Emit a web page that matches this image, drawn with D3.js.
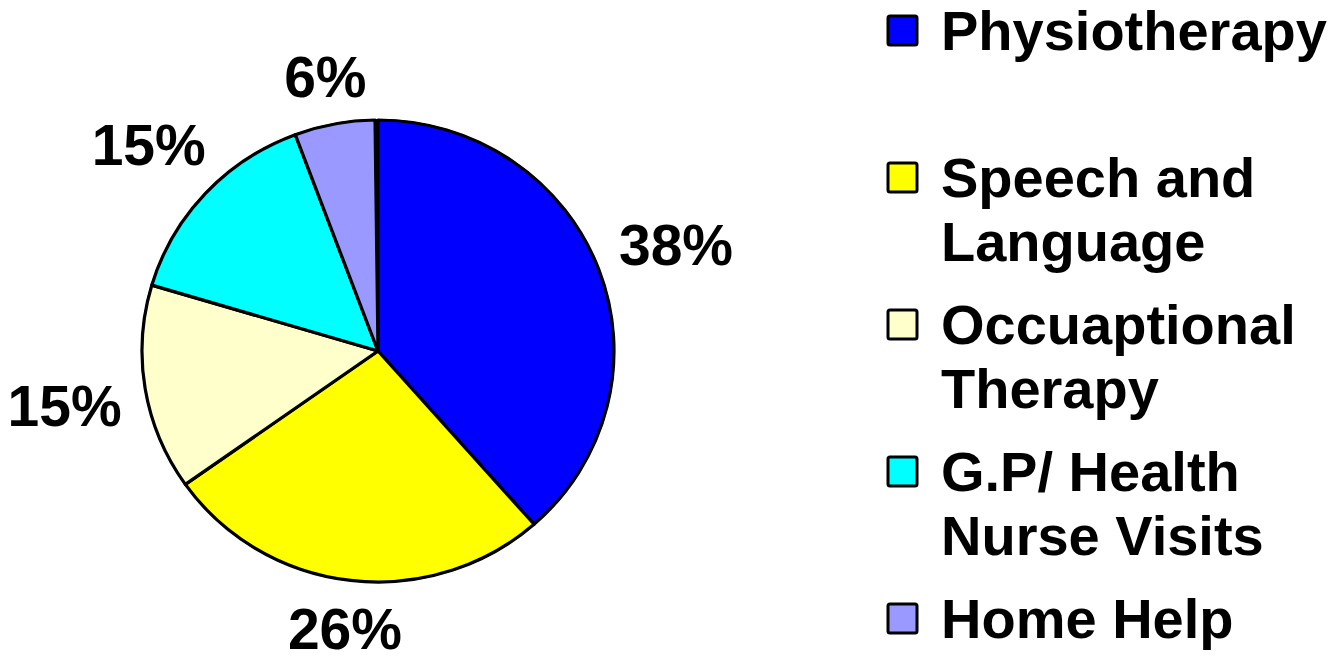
<!DOCTYPE html>
<html>
<head>
<meta charset="utf-8">
<script src="https://cdn.jsdelivr.net/npm/d3@7/dist/d3.min.js"></script>
<style>
  html, body { margin: 0; padding: 0; background: #fff; }
  svg { display: block; }
  text { font-family: "Liberation Sans", Arial, sans-serif; font-weight: bold; fill: #000; }
</style>
</head>
<body>
<svg id="chart" width="1333" height="661"></svg>
<script>
// ---- data ----
const categories = ["Physiotherapy", "Speech and Language", "Occuaptional Therapy", "G.P/ Health Nurse Visits", "Home Help"];
const legendLines = [["Physiotherapy"], ["Speech and", "Language"], ["Occuaptional", "Therapy"], ["G.P/ Health", "Nurse Visits"], ["Home Help"]];
const values = [38.5, 26.7, 14.4, 14.7, 5.5];
const valueLabels = ["38%", "26%", "15%", "15%", "6%"];
const colors = ["#0000FF", "#FFFF00", "#FFFFCC", "#00FFFF", "#9999FF"];

// ---- layout ----
const svg = d3.select("#chart");
const cx = 378, cy = 351, rx = 236, ry = 231;
const yScale = ry / rx;

const total = d3.sum(values);
const pie = d3.pie().sort(null).value(d => d)
  .startAngle(0).endAngle(2 * Math.PI * Math.min(total, 100) / 100);
const arcs = pie(values);
const arc = d3.arc().innerRadius(0).outerRadius(rx);

const g = svg.append("g").attr("transform", `translate(${cx},${cy}) scale(1,${yScale})`);
g.append("circle").attr("r", rx + 1).attr("fill", "#000");
g.selectAll("path.slice").data(arcs).join("path")
  .attr("class", "slice")
  .attr("d", arc)
  .attr("fill", (d, i) => colors[i])
  .attr("stroke", "#000")
  .attr("stroke-width", 3.2)
  .attr("stroke-linejoin", "round")
  .attr("vector-effect", "non-scaling-stroke");

// ---- value labels ----
const labelSize = 57, capH = labelSize * 0.716, gap = 22;
const lbl = svg.append("g").selectAll("text").data(arcs).join("text")
  .attr("font-size", labelSize)
  .attr("text-anchor", "middle")
  .text((d, i) => valueLabels[i]);
lbl.each(function(d) {
  const w = this.getComputedTextLength();
  const a = (d.startAngle + d.endAngle) / 2;
  const s = Math.sin(a), c = Math.cos(a);
  const dist = rx + gap + Math.abs(w / 2 * s) + Math.abs(capH / 2 * c);
  const x = cx + dist * s;
  const y = cy - dist * c * yScale;
  d3.select(this).attr("x", x).attr("y", y + capH / 2 + 4 * Math.abs(s));
});

// ---- legend ----
const legendSize = 56;
const legend = svg.append("g");
const itemY = d3.scaleLinear().domain([0, 1]).range([50, 197]);
const lineH = 64;
legendLines.forEach((lines, i) => {
  const base = itemY(i);
  legend.append("rect")
    .attr("x", 888).attr("y", base - 34)
    .attr("width", 29).attr("height", 29)
    .attr("rx", 2)
    .attr("fill", colors[i]).attr("stroke", "#000").attr("stroke-width", 3);
  lines.forEach((ln, j) => {
    legend.append("text")
      .attr("x", 941).attr("y", base + j * lineH)
      .attr("font-size", legendSize)
      .text(ln);
  });
});
</script>
</body>
</html>
